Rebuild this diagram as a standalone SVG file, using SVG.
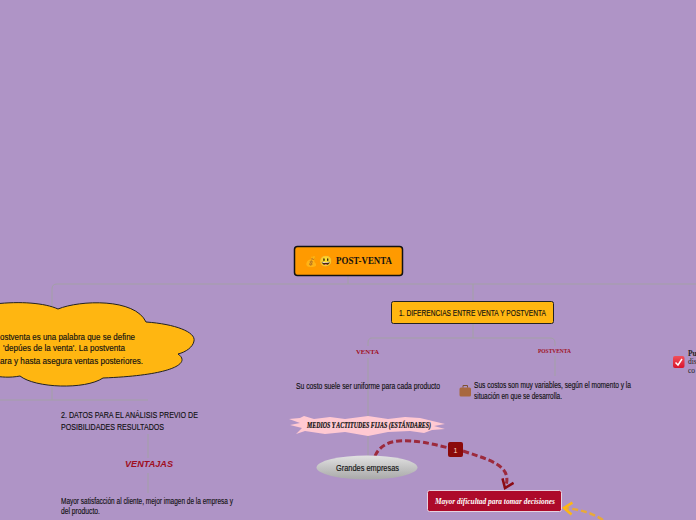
<svg xmlns="http://www.w3.org/2000/svg" width="696" height="520" viewBox="0 0 696 520">
<defs>
<style>
.hand{font-family:"Liberation Sans","Open Sans",sans-serif;fill:#111;stroke:#111;stroke-width:.15;font-size:9px}
.ser{font-family:"Liberation Serif","DejaVu Serif",serif}
.red{fill:#a00f1e;font-weight:700}
.lnk{fill:none;stroke:#a3a0a6;stroke-width:1}
.dash{fill:none;stroke:#9c2a3c;stroke-width:3;stroke-dasharray:6 3}
</style>
<marker id="ah" markerWidth="14" markerHeight="16" refX="10" refY="7" orient="auto" markerUnits="userSpaceOnUse"><path d="M2 1L10 7L2 13" fill="none" stroke="#8b0a14" stroke-width="2.500"/></marker>
<marker id="ay" markerWidth="14" markerHeight="18" refX="10" refY="8" orient="auto" markerUnits="userSpaceOnUse"><path d="M2 2L10 8L2 14" fill="none" stroke="#ffb611" stroke-width="2.500"/></marker>
<linearGradient id="ell" x1="0" y1="0" x2="0" y2="1"><stop offset="0" stop-color="#e2e2e2"/><stop offset="0.5" stop-color="#c4c4c4"/><stop offset="1" stop-color="#a9a9a9"/></linearGradient>
<linearGradient id="chk" x1="0" y1="0" x2="0" y2="1"><stop offset="0" stop-color="#f2505a"/><stop offset="1" stop-color="#d8142c"/></linearGradient>
</defs>
<rect width="696" height="520" fill="#af94c6"/>
<g id="connectors">
<path class="lnk" d="M52 310V289Q52 284 57 284H696M348 276V284M473 284V302M473 324V338M372 338H550Q555 338 555 343V346M555 356V376M372 338Q368 338 368 343V346M368 358V416M368 436V456M52 378V400M0 400H148M148 434V458M148 473V493"/>
<path class="dash" d="M375 456C384 436 410 438 449 448"/>
<path class="dash" d="M463 451C490 460 514 466 505 488" marker-end="url(#ah)"/>
<path d="M603 520C590 512 578 509 564 508" fill="none" stroke="#e8a93a" stroke-width="2.500" stroke-dasharray="6 3" marker-end="url(#ay)"/>
</g>
<g id="root">
<rect x="294.500" y="246.500" width="108" height="29" rx="3" fill="#ff9a00" stroke="#111" stroke-width="1.500"/>
<text x="311.500" y="265" font-size="10" text-anchor="middle" opacity=".55" font-family="Noto Color Emoji,DejaVu Sans,sans-serif">💰</text>
<text x="326" y="264.500" font-size="11" text-anchor="middle" font-family="Noto Color Emoji,DejaVu Sans,sans-serif">😃</text>
<text x="336" y="264" class="ser" font-size="9.500" font-weight="700" fill="#111" textLength="56" lengthAdjust="spacingAndGlyphs">POST-VENTA</text>
</g>
<g id="diferencias">
<rect x="391.500" y="301.500" width="162" height="22" rx="2" fill="#ffb611" stroke="#222" stroke-width="1"/>
<text x="399" y="316" class="hand" textLength="147" lengthAdjust="spacingAndGlyphs">1. DIFERENCIAS ENTRE VENTA Y POSTVENTA</text>
</g>
<g id="venta"><text x="356" y="353.500" class="ser red" font-size="6.500" textLength="23" lengthAdjust="spacingAndGlyphs">VENTA</text></g>
<g id="postventa"><text x="538" y="353" class="ser red" font-size="6.500" textLength="33" lengthAdjust="spacingAndGlyphs">POSTVENTA</text></g>
<g id="costo-venta"><text x="296" y="389" class="hand" textLength="144" lengthAdjust="spacingAndGlyphs">Su costo suele ser uniforme para cada producto</text></g>
<g id="costo-postventa">
<rect x="459.500" y="387.500" width="11.500" height="9" rx="1.500" fill="#a8683f"/><path d="M463 387.500v-2h4.500v2" fill="none" stroke="#80502f"/>
<text x="474" y="387.500" class="hand" textLength="157" lengthAdjust="spacingAndGlyphs">Sus costos son muy variables, según el momento y la</text>
<text x="474" y="398.500" class="hand" textLength="88" lengthAdjust="spacingAndGlyphs">situación en que se desarrolla.</text>
</g>
<g id="check">
<rect x="673" y="356" width="11.500" height="12" rx="2" fill="url(#chk)"/><path d="M675.500 362.500l2.500 2.500 4-6" fill="none" stroke="#fff" stroke-width="1.500"/>
<text x="688" y="355.500" class="ser" font-size="7.500" font-weight="700" fill="#222">Pu</text>
<text x="688" y="364" class="ser" font-size="7.500" fill="#222">dis</text>
<text x="688" y="373" class="ser" font-size="7.500" fill="#222">co</text>
</g>
<g id="nube">
<path d="M-5 304C20 301 45 303 58 309C80 300 135 298 146 322C175 324 196 332 194 341C193 347 186 352 178 354C190 362 178 375 103 378C85 390 35 388 20 376C10 378 0 377 -5 376Z" fill="#ffb611" stroke="#222" stroke-width="1"/>
<text x="0" y="340" class="hand" textLength="135" lengthAdjust="spacingAndGlyphs">ostventa es una palabra que se define</text>
<text x="3" y="351" class="hand" textLength="122" lengthAdjust="spacingAndGlyphs">'depúes de la venta'. La postventa</text>
<text x="0" y="364" class="hand" textLength="143" lengthAdjust="spacingAndGlyphs">ara y hasta asegura ventas posteriores.</text>
</g>
<g id="datos">
<text x="61" y="418" class="hand" textLength="137" lengthAdjust="spacingAndGlyphs">2. DATOS PARA EL ANÁLISIS PREVIO DE</text>
<text x="61" y="430" class="hand" textLength="103" lengthAdjust="spacingAndGlyphs">POSIBILIDADES RESULTADOS</text>
</g>
<g id="ventajas"><text x="125" y="467" font-family="Liberation Sans,sans-serif" font-size="8.500" font-style="italic" class="red" textLength="48" lengthAdjust="spacingAndGlyphs">VENTAJAS</text></g>
<g id="mayor-satisfaccion">
<text x="61" y="504" class="hand" textLength="172" lengthAdjust="spacingAndGlyphs">Mayor satisfacción al cliente, mejor imagen de la empresa y</text>
<text x="61" y="514" class="hand" textLength="39" lengthAdjust="spacingAndGlyphs">del producto.</text>
</g>
<g id="medios">
<path d="M289 419L300 418L304 416L314 419L330 417L345 419L368 416L388 419L405 417L420 418L445 424L434 426L445 429L432 430L424 433L410 431L388 432L368 436L345 432L325 434L305 431L296 434L302 428L290 425L300 423Z" fill="#ffc9d2"/>
<text x="307" y="427.500" class="ser" font-size="8" font-weight="700" font-style="italic" fill="#111" stroke="#111" stroke-width=".2" textLength="124" lengthAdjust="spacingAndGlyphs">MEDIOS Y ACTITUDES FIJAS (ESTÁNDARES)</text>
</g>
<g id="grandes">
<ellipse cx="367" cy="467.500" rx="50.500" ry="12" fill="url(#ell)"/>
<text x="336" y="471" class="hand" textLength="63" lengthAdjust="spacingAndGlyphs">Grandes empresas</text>
</g>
<g id="badge">
<rect x="448" y="442" width="15" height="15" rx="2" fill="#8b0a0a"/>
<text x="455.500" y="452.500" font-family="Liberation Sans,sans-serif" font-size="7" fill="#ffd9c0" text-anchor="middle">1</text>
</g>
<g id="mayor-dificultad">
<rect x="427.500" y="490.500" width="134" height="21" rx="2" fill="#ad0a2a" stroke="#e6d2e0" stroke-width="1"/>
<text x="435" y="503.500" class="ser" font-size="9" font-style="italic" font-weight="700" fill="#fff" textLength="120" lengthAdjust="spacingAndGlyphs">Mayor dificultad para tomar decisiones</text>
</g>
</svg>
